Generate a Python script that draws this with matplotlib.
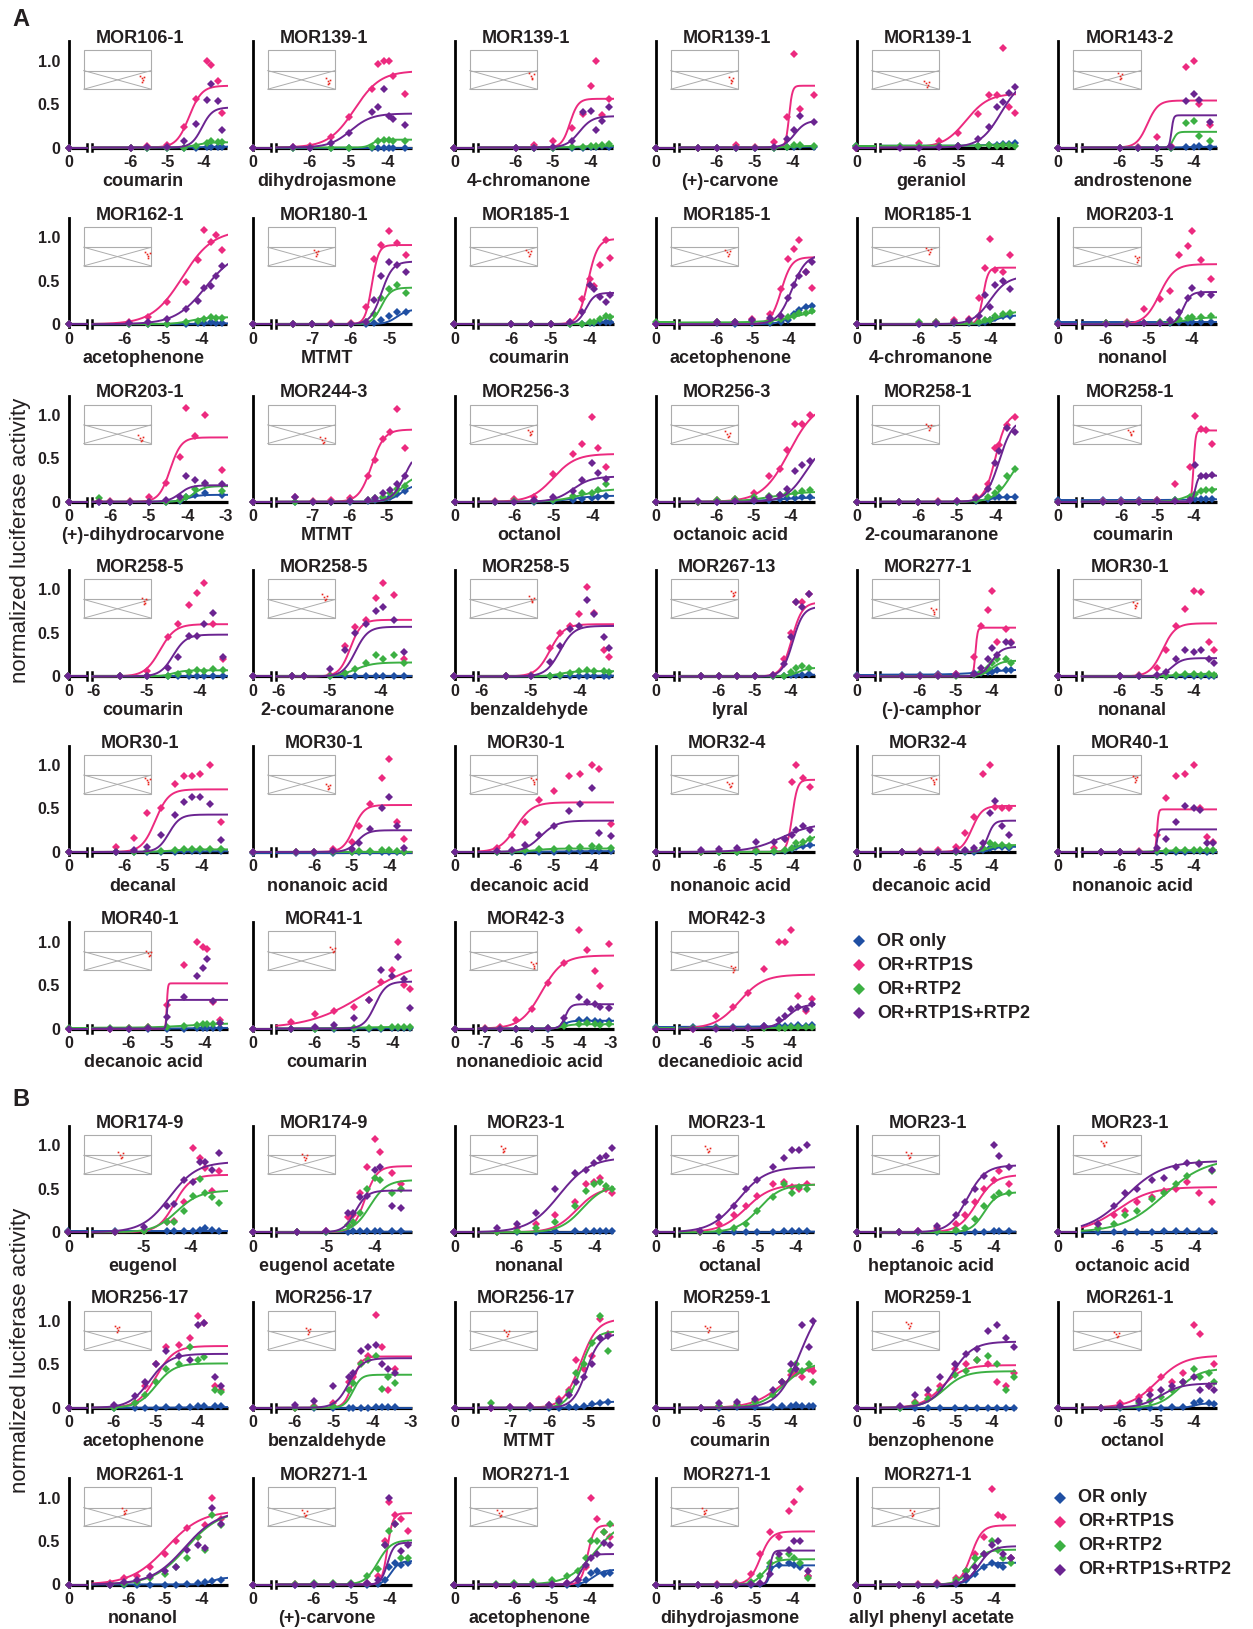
import numpy as np
import matplotlib
matplotlib.use("Agg")
import matplotlib.pyplot as plt
from matplotlib.lines import Line2D
from matplotlib.patches import Rectangle

plt.rcParams['font.family'] = ['Liberation Sans', 'DejaVu Sans']
plt.rcParams['font.weight'] = 'bold'

# ---------------- data ----------------
titles = ["MOR106-1", "MOR139-1", "MOR139-1", "MOR139-1", "MOR139-1", "MOR143-2",
          "MOR162-1", "MOR180-1", "MOR185-1", "MOR185-1", "MOR185-1", "MOR203-1",
          "MOR203-1", "MOR244-3", "MOR256-3", "MOR256-3", "MOR258-1", "MOR258-1",
          "MOR258-5", "MOR258-5", "MOR258-5", "MOR267-13", "MOR277-1", "MOR30-1",
          "MOR30-1", "MOR30-1", "MOR30-1", "MOR32-4", "MOR32-4", "MOR40-1",
          "MOR40-1", "MOR41-1", "MOR42-3", "MOR42-3",
          "MOR174-9", "MOR174-9", "MOR23-1", "MOR23-1", "MOR23-1", "MOR23-1",
          "MOR256-17", "MOR256-17", "MOR256-17", "MOR259-1", "MOR259-1", "MOR261-1",
          "MOR261-1", "MOR271-1", "MOR271-1", "MOR271-1", "MOR271-1"]

compounds = ["coumarin", "dihydrojasmone", "4-chromanone", "(+)-carvone", "geraniol", "androstenone",
             "acetophenone", "MTMT", "coumarin", "acetophenone", "4-chromanone", "nonanol",
             "(+)-dihydrocarvone", "MTMT", "octanol", "octanoic acid", "2-coumaranone", "coumarin",
             "coumarin", "2-coumaranone", "benzaldehyde", "lyral", "(-)-camphor", "nonanal",
             "decanal", "nonanoic acid", "decanoic acid", "nonanoic acid", "decanoic acid", "nonanoic acid",
             "decanoic acid", "coumarin", "nonanedioic acid", "decanedioic acid",
             "eugenol", "eugenol acetate", "nonanal", "octanal", "heptanoic acid", "octanoic acid",
             "acetophenone", "benzaldehyde", "MTMT", "coumarin", "benzophenone", "octanol",
             "nonanol", "(+)-carvone", "acetophenone", "dihydrojasmone", "allyl phenyl acetate"]

# log10 concentration range of the main axis segment
x_ranges = [(-7.05, -3.35), (-6.87, -3.38), (-6.99, -3.39), (-6.98, -3.43), (-7.0, -3.53), (-7.02, -3.37),
            (-6.84, -3.33), (-7.93, -4.42), (-6.84, -3.4), (-7.04, -3.27), (-7.07, -3.29), (-6.55, -3.42),
            (-6.47, -2.96), (-8.0, -4.31), (-6.93, -3.45), (-7.0, -3.37), (-6.99, -3.48), (-7.09, -3.35),
            (-6.03, -3.47), (-6.05, -3.4), (-6.07, -3.3), (-7.09, -3.35), (-7.11, -3.33), (-7.03, -3.38),
            (-6.82, -3.34), (-7.02, -3.4), (-6.99, -3.43), (-7.09, -3.39), (-7.11, -3.33), (-7.03, -3.38),
            (-6.95, -3.41), (-6.99, -3.51), (-7.2, -2.92), (-6.63, -3.4),
            (-6.08, -3.23), (-6.03, -3.24), (-6.99, -3.5), (-7.04, -3.5), (-6.99, -3.42), (-6.92, -3.43),
            (-6.51, -3.3), (-6.48, -2.98), (-7.82, -4.35), (-7.09, -3.35), (-7.04, -3.35), (-7.03, -3.38),
            (-6.98, -3.28), (-6.99, -3.41), (-6.96, -3.36), (-6.99, -3.42), (-7.0, -3.43)]

t654 = [-6, -5, -4]
x_ticks = [t654] * 7 + [[-7, -6, -5]] + [t654] * 4 + [[-6, -5, -4, -3], [-7, -6, -5]] + [t654] * 18 \
    + [[-7, -6, -5, -4, -3], t654] + [[-5, -4], [-5, -4]] + [t654] * 5 \
    + [[-6, -5, -4, -3], [-7, -6, -5]] + [t654] * 8

# fitted curves: (bottom, top, logEC50, hill slope)
fit_blue = [(0, 0.01, -4, 2), (0, 0, -4, 1), (0, 0.01, -4, 2), (0, 0.01, -4, 2), (0.02, 0.05, -4, 1.5), (0, 0.01, -4, 2),
            (0, 0.01, -4, 2), (0, 0.17, -4.8, 3), (0, 0.02, -4, 2), (0, 0.22, -3.9, 2.5), (0, 0.1, -3.85, 3), (0.02, 0.02, -4, 1),
            (0, 0.08, -4.0, 3), (0, 0.2, -4.6, 2.5), (0, 0.07, -4.5, 1.5), (0, 0.05, -4.5, 1), (0, 0.06, -4.2, 2), (0.02, 0.03, -4, 1),
            (0, 0, -4, 1), (0, 0, -4, 1), (0, 0.01, -4, 1), (0, 0.02, -4, 2), (0.02, 0.08, -4.2, 1), (0, 0.01, -4, 1),
            (0, 0.01, -4.5, 1), (-0.01, -0.01, -4, 1), (0, 0.01, -5, 1), (0, 0.08, -3.9, 3), (0, 0.06, -4.0, 4), (0, 0, -4, 1),
            (0, 0.01, -4, 1), (0, 0.01, -4, 1), (0, 0.09, -4.5, 4), (0.02, 0.03, -4.5, 1),
            (0.02, 0.02, -4, 1), (0, 0.01, -4, 1), (0, 0.01, -4, 1), (0, 0.01, -4, 1), (0, 0.01, -4, 1), (0, 0.01, -4, 1),
            (0, 0.01, -4, 1), (0, 0, -4, 1), (0, 0.07, -4.9, 3), (0, 0.01, -4, 1), (0, 0, -4, 1), (0, 0.05, -4.0, 4),
            (0, 0.08, -3.7, 3), (0, 0.27, -3.95, 4), (0, 0.17, -3.9, 3), (0, 0.22, -4.6, 10), (0, 0.25, -4.5, 3)]

fit_pink = [(0, 0.71, -4.4, 2.5), (0, 0.88, -4.85, 1.3), (0, 0.56, -4.55, 4), (0, 0.71, -4.1, 10), (0, 0.62, -4.8, 1.5), (0, 0.54, -5.25, 3),
            (0, 1.08, -4.5, 1.1), (0, 0.91, -5.45, 5), (0, 0.98, -4.05, 3.5), (0, 0.77, -4.2, 3), (0, 0.65, -4.2, 6), (0, 0.69, -4.75, 2.5),
            (0, 0.74, -4.45, 3), (0, 0.83, -5.4, 2.5), (0, 0.55, -5.0, 1.5), (0, 1.15, -4.05, 1.2), (0, 1.02, -4.0, 3), (0, 0.82, -4.0, 15),
            (0, 0.6, -4.75, 3), (0, 0.65, -4.6, 4), (0, 0.6, -4.6, 3), (0, 0.85, -3.98, 3), (0, 0.56, -4.45, 15), (0, 0.61, -4.85, 2.5),
            (0, 0.72, -5.2, 2.5), (0, 0.54, -4.95, 3), (0, 0.57, -6.0, 2), (0, 0.83, -4.0, 6), (0, 0.53, -4.55, 3), (0, 0.49, -5.0, 20),
            (0, 0.52, -5.0, 30), (0, 0.8, -4.7, 0.6), (0, 0.84, -5.2, 1.3), (0, 0.62, -5.2, 1.5),
            (0, 0.66, -4.35, 2.5), (0, 0.76, -4.2, 3.5), (0, 0.52, -4.45, 1.5), (0, 0.55, -5.3, 1.3), (0, 0.66, -4.45, 1.8), (0, 0.52, -6.0, 1.0),
            (0, 0.71, -5.0, 2), (0, 0.59, -4.5, 4), (0, 1.02, -5.2, 2), (0, 0.5, -4.3, 1.1), (0, 0.49, -5.35, 1.5), (0, 0.6, -5.0, 1.2),
            (0, 0.85, -4.95, 0.9), (0, 0.82, -4.05, 6), (0, 0.68, -4.05, 5), (0, 0.61, -4.85, 3), (0, 0.68, -4.6, 3)]

fit_green = [(0, 0.06, -4.2, 2.5), (0, 0.09, -4.4, 5), (0, 0.02, -4.3, 2), (0, 0.02, -4, 2), (0.02, 0.03, -4, 1), (0, 0.18, -4.55, 8),
             (0, 0.08, -4.3, 2), (0, 0.42, -5.2, 3.5), (0, 0.09, -3.8, 4), (0.02, 0.2, -3.6, 1.0), (0, 0.15, -3.8, 2), (0, 0.08, -4.2, 2),
             (0, 0.18, -3.85, 3), (0, 0.3, -4.6, 2.5), (0, 0.15, -4.3, 1.3), (0, 0.12, -4.5, 1.0), (0, 0.6, -3.6, 2), (0, 0.15, -4.1, 2),
             (0, 0.07, -4.5, 4), (0, 0.16, -4.5, 2.5), (0, 0.06, -4.4, 3), (0, 0.1, -3.8, 3), (0, 0.18, -4.0, 3), (0, 0.03, -4.5, 2),
             (0, 0.03, -4.8, 2), (0, 0, -4, 1), (0, 0.04, -5.5, 2), (0, 0.2, -3.7, 2.5), (0, 0.08, -4.1, 3), (0, 0.02, -5, 2),
             (0.01, 0.06, -4.5, 1), (0, 0.02, -5, 1), (0, 0.05, -4.5, 3), (0.01, 0.01, -4, 1),
             (0, 0.48, -4.3, 1.8), (0, 0.6, -4.1, 2.5), (0, 0.55, -4.3, 1.5), (0, 0.55, -4.95, 1.5), (0, 0.46, -4.25, 2.5), (0, 0.85, -4.8, 0.8),
             (0, 0.51, -5.0, 2), (0, 0.38, -4.5, 4), (0, 0.88, -5.2, 2.5), (0, 0.52, -4.2, 1.3), (0, 0.42, -5.3, 1.5), (0, 0.45, -4.4, 1.5),
             (0, 0.85, -4.4, 0.95), (0, 0.51, -4.3, 2.5), (0, 0.75, -3.85, 1.2), (0, 0.29, -4.75, 3), (0, 0.4, -4.6, 2.5)]

fit_purple = [(0, 0.46, -4.05, 3), (0, 0.39, -4.95, 1.6), (0, 0.36, -4.3, 2.5), (0, 0.31, -3.95, 3), (0, 0.8, -3.9, 1.6), (0, 0.37, -4.6, 15),
              (0, 0.85, -3.9, 1.1), (0, 0.72, -5.2, 3), (0, 0.36, -4.1, 4), (0, 0.8, -3.9, 2.2), (0, 0.55, -4.0, 1.8), (0, 0.37, -4.2, 5),
              (0, 0.19, -4.2, 3), (0, 0.6, -4.5, 2.5), (0, 0.29, -4.5, 1.8), (0, 0.7, -3.6, 1.6), (0, 0.95, -3.9, 2.5), (0, 0.3, -3.95, 10),
              (0, 0.48, -4.5, 3.5), (0, 0.57, -4.5, 3.5), (0, 0.58, -4.4, 3), (0, 0.8, -3.95, 3), (0, 0.34, -4.0, 3), (0, 0.21, -4.6, 3),
              (0, 0.43, -4.85, 3), (0, 0.25, -4.85, 3), (0, 0.36, -5.35, 2), (0, 0.33, -4.3, 1.0), (0, 0.36, -4.1, 5), (0, 0.26, -5.0, 20),
              (0, 0.33, -5.0, 30), (0, 0.54, -4.45, 3), (0, 0.28, -4.45, 5), (0, 0.28, -4.05, 2.5),
              (0, 0.81, -4.45, 1.5), (0, 0.48, -4.4, 3.5), (0, 0.86, -4.9, 1.1), (0, 0.75, -5.5, 1.2), (0, 0.77, -4.7, 1.8), (0, 0.82, -5.8, 0.9),
              (0, 0.62, -5.15, 1.8), (0, 0.57, -4.6, 2.5), (0, 0.85, -5.05, 2.5), (0, 1.25, -3.75, 1.4), (0, 0.76, -5.1, 1.5), (0, 0.28, -4.9, 1.5),
              (0, 0.85, -4.45, 0.95), (0, 0.48, -4.05, 5), (0, 0.35, -4.2, 4), (0, 0.39, -4.6, 10), (0, 0.44, -4.4, 2.5)]

# measured points (log10 conc) and responses per series
x_points = [
    [-6, -5.55, -5, -4.55, -4.2, -3.9, -3.8, -3.6, -3.5],
    [-6.43, -6, -5.45, -5, -4.4, -4.25, -4.1, -3.95, -3.85, -3.55],
    [-6, -5.5, -5, -4.5, -4.2, -4, -3.85, -3.7, -3.5],
    [-6.5, -6, -5.5, -5, -4.5, -4.15, -3.98, -3.8, -3.45],
    [-6.5, -6, -5.5, -5, -4.5, -4.2, -4, -3.85, -3.7, -3.55],
    [-6, -5.5, -5, -4.6, -4.2, -4, -3.85, -3.55],
    [-5.9, -5.4, -4.9, -4.4, -4.1, -3.95, -3.75, -3.62, -3.47],
    [-7.5, -7, -6.5, -6, -5.6, -5.4, -5.2, -5.0, -4.8, -4.55],
    [-6, -5.5, -5, -4.5, -4.2, -4, -3.9, -3.75, -3.6, -3.5],
    [-6, -5.5, -5, -4.5, -4.2, -4, -3.85, -3.7, -3.5, -3.35],
    [-6, -5.5, -5, -4.6, -4.3, -4.15, -4, -3.85, -3.65, -3.45],
    [-6, -5.5, -5.1, -4.75, -4.5, -4.3, -4.1, -4, -3.8, -3.55],
    [-6.3, -6, -5.5, -5, -4.55, -4.2, -4.05, -3.8, -3.55, -3.1],
    [-7.5, -7, -6.5, -6, -5.5, -5.3, -5.1, -4.9, -4.7, -4.5],
    [-6.5, -6, -5.5, -5, -4.5, -4.25, -4, -3.85, -3.65],
    [-6.5, -6, -5.5, -5, -4.6, -4.3, -4.1, -3.9, -3.7, -3.5],
    [-6.5, -6, -5.5, -5, -4.5, -4.2, -4, -3.9, -3.7, -3.5],
    [-6.5, -6, -5.5, -5, -4.5, -4.1, -3.95, -3.8, -3.65, -3.5],
    [-5.5, -5, -4.6, -4.4, -4.2, -4.05, -3.92, -3.75, -3.55],
    [-5.75, -5.5, -5, -4.7, -4.5, -4.3, -4.1, -3.95, -3.75, -3.55],
    [-5.5, -5, -4.6, -4.4, -4.2, -4, -3.85, -3.7, -3.5, -3.4],
    [-6.5, -6, -5.5, -5, -4.5, -4.2, -4, -3.85, -3.7, -3.5],
    [-6.5, -6, -5.5, -5, -4.5, -4.3, -4.1, -4, -3.85, -3.6, -3.45],
    [-6, -5.5, -5, -4.75, -4.5, -4.25, -4, -3.8, -3.6, -3.45],
    [-6.2, -5.75, -5.4, -5.05, -4.7, -4.45, -4.25, -4.05, -3.8, -3.5],
    [-6.5, -6, -5.5, -5, -4.8, -4.5, -4.2, -4, -3.8, -3.6],
    [-6.5, -6.1, -5.75, -5.4, -5, -4.6, -4.3, -4, -3.8, -3.5],
    [-6.5, -6, -5.5, -5, -4.5, -4.2, -4, -3.9, -3.7, -3.5],
    [-6.5, -6, -5.5, -5, -4.75, -4.5, -4.25, -4.05, -3.9, -3.7, -3.5],
    [-6.5, -6, -5.5, -5, -4.75, -4.5, -4.25, -4, -3.85, -3.65, -3.5],
    [-6.5, -6, -5.5, -5, -4.55, -4.2, -4.05, -3.95, -3.8, -3.6],
    [-6.6, -6, -5.5, -5, -4.6, -4.3, -4.0, -3.85, -3.7, -3.55],
    [-7, -6.5, -6, -5.5, -5, -4.5, -4.0, -3.75, -3.5, -3.35, -3.05],
    [-6.3, -5.75, -5.35, -5.0, -4.6, -4.25, -4.1, -3.95, -3.8, -3.6, -3.45],
    [-5.6, -5, -4.5, -4.35, -4.15, -3.95, -3.8, -3.7, -3.55, -3.4],
    [-5.6, -5, -4.55, -4.45, -4.3, -4.15, -4.0, -3.9, -3.65, -3.45],
    [-6.5, -6, -5.5, -5, -4.5, -4.2, -4, -3.85, -3.7, -3.55],
    [-6.5, -6, -5.6, -5.3, -5, -4.6, -4.3, -4.1, -3.9, -3.7],
    [-6.5, -6, -5.5, -5, -4.75, -4.5, -4.25, -4, -3.85, -3.6],
    [-6.5, -6.1, -5.8, -5.5, -5.1, -4.8, -4.5, -4.2, -3.9, -3.55],
    [-6, -5.5, -5.25, -5, -4.75, -4.45, -4.2, -4, -3.85, -3.6, -3.45],
    [-6, -5.5, -5, -4.6, -4.5, -4.3, -4.1, -3.9, -3.75, -3.6, -3.4],
    [-7.5, -7, -6.5, -6, -5.75, -5.5, -5.3, -5.1, -4.9, -4.7, -4.5],
    [-6.5, -6, -5.5, -5, -4.5, -4.25, -4.0, -3.85, -3.7, -3.5, -3.4],
    [-6.5, -6.1, -5.75, -5.4, -5.0, -4.7, -4.4, -4.1, -3.85, -3.6, -3.4],
    [-6.5, -6, -5.5, -5.2, -4.9, -4.6, -4.3, -4.0, -3.85, -3.6, -3.45],
    [-6.5, -6.1, -5.75, -5.4, -5.0, -4.7, -4.4, -4.1, -3.9, -3.7, -3.45],
    [-6.5, -6, -5.5, -5, -4.6, -4.3, -4.1, -4, -3.85, -3.7, -3.5],
    [-6.5, -6, -5.5, -5, -4.6, -4.3, -4.1, -3.95, -3.8, -3.6, -3.45],
    [-6.5, -6, -5.5, -5.1, -4.85, -4.6, -4.35, -4.1, -3.95, -3.8, -3.6],
    [-6.5, -6, -5.5, -5, -4.75, -4.5, -4.25, -4.05, -3.9, -3.75, -3.55],
]

y_blue = [
    [0, 0, 0, 0, 0, 0.01, 0.01, 0.01, 0.01],
    [0, 0, 0, 0, 0, 0, 0, 0, 0, 0],
    [0, 0, 0, 0, 0, 0.01, 0.01, 0.02, 0.01],
    [0, 0, 0, 0, 0, 0.01, 0.01, 0.02, 0.01],
    [0.01, 0.02, 0.02, 0.02, 0.02, 0.03, 0.03, 0.04, 0.04, 0.05],
    [0, 0, 0, 0, 0.01, 0.01, 0.02, 0.01],
    [0, 0, 0, 0, 0.01, 0.01, 0.02, 0.01, 0.01],
    [0, 0, 0, 0, 0, 0.01, 0.05, 0.1, 0.14, 0.14],
    [0, 0, 0, 0, 0, 0.01, 0.01, 0.02, 0.02, 0.02],
    [0.01, 0, 0.01, 0.01, 0.02, 0.05, 0.12, 0.16, 0.2, 0.21],
    [0, 0, 0.01, 0.01, 0.01, 0.03, 0.05, 0.07, 0.09, 0.1],
    [0.01, 0.01, 0.01, 0.01, 0.01, 0.02, 0.02, 0.02, 0.02, 0.02],
    [0, 0, 0, 0, 0, 0.01, 0.05, 0.08, 0.1, 0.08],
    [0, 0, 0, 0, 0.01, 0.02, 0.04, 0.06, 0.09, 0.12],
    [0, 0, 0, 0.01, 0.02, 0.03, 0.04, 0.06, 0.07],
    [0, 0, 0.01, 0.01, 0.02, 0.03, 0.04, 0.04, 0.05, 0.05],
    [0, 0, 0, 0, 0.01, 0.03, 0.05, 0.06, 0.06, 0.06],
    [0.02, 0.02, 0.02, 0.02, 0.02, 0.02, 0.03, 0.03, 0.03, 0.03],
    [0, 0, 0, 0, 0, 0.01, 0, 0.01, 0],
    [0, 0, 0, 0, 0, 0, 0.01, 0, 0, 0],
    [0, 0, 0, 0, 0, 0.01, 0.01, 0.01, 0.01, 0.01],
    [0, 0, 0, 0, 0, 0, 0.02, 0.02, 0.02, 0.03],
    [0.02, 0.02, 0.03, 0.03, 0.04, 0.04, 0.05, 0.05, 0.07, 0.07, 0.07],
    [0, 0, 0, 0, 0.01, 0.01, 0.01, 0.01, 0.01, 0.01],
    [0, 0, 0, 0, 0, 0.01, 0.01, 0.01, 0.02, 0.01],
    [-0.01, -0.01, -0.01, 0, 0, 0, 0, 0, 0, 0],
    [0, 0, 0, 0, 0, 0.01, 0.01, 0.01, 0.01, 0.01],
    [0, 0, 0, 0, 0, 0.01, 0.03, 0.06, 0.07, 0.08],
    [0, 0, 0, 0, 0, 0, 0.02, 0.05, 0.06, 0.06, 0.05],
    [0, 0, 0, 0, 0, 0, 0, 0.01, 0.01, 0, 0.01],
    [0, 0, 0, 0, 0, 0.01, 0.01, 0.01, 0.01, 0.01],
    [0, 0, 0, 0, 0, 0, 0.01, 0.01, 0.01, 0.01],
    [0, 0, 0, 0, 0, 0.05, 0.1, 0.1, 0.09, 0.08, 0.09],
    [0.02, 0.02, 0.02, 0.02, 0.03, 0.03, 0.03, 0.03, 0.04, 0.03, 0.04],
    [0.02, 0.02, 0.01, 0.02, 0.02, 0.02, 0.03, 0.05, 0.03, 0.02],
    [0, 0, 0, 0.01, 0.01, 0.01, 0.01, 0.01, 0.02, 0.01],
    [0, 0, 0, 0.01, 0.01, 0.01, 0.01, 0.01, 0.01, 0.01],
    [0, 0, 0, 0, 0, 0, 0.01, 0.01, 0.01, 0.01],
    [0, 0, 0, 0, 0, 0, 0, 0.01, 0.01, 0.01],
    [0, 0, 0, 0, 0, 0.01, 0.01, 0.01, 0.01, 0.01],
    [0, 0, 0, 0, 0.01, 0.01, 0.01, 0.02, 0.02, 0.02, 0.02],
    [0, 0, 0, 0, 0, 0, 0, 0.01, 0.01, 0.01, 0.01],
    [0, 0, 0, 0, 0, 0.01, 0.01, 0.02, 0.04, 0.06, 0.07],
    [0, 0, 0.01, 0.01, 0.01, 0.02, 0.02, 0.03, 0.02, 0.02, 0.02],
    [0, 0, 0, 0, 0, 0, 0, 0, 0, 0, 0],
    [0, 0, 0, 0, 0, 0.01, 0.01, 0.05, 0.08, 0.06, 0.04],
    [0, 0, 0, 0, 0, 0, 0.01, 0.02, 0.03, 0.04, 0.05],
    [0, 0, 0, 0, 0, 0.01, 0.05, 0.2, 0.25, 0.22, 0.25],
    [0, 0, 0, 0, 0, 0.01, 0.05, 0.13, 0.15, 0.12, 0.13],
    [0, 0, 0, 0, 0.01, 0.2, 0.22, 0.25, 0.22, 0.2, 0.1],
    [0, 0, 0, 0.01, 0.05, 0.12, 0.2, 0.25, 0.22, 0.2, 0.3],
]

y_pink = [
    [0, 0.02, 0.03, 0.24, 0.56, 1.0, 0.95, 0.77, 0.4],
    [0.01, 0.02, 0.12, 0.35, 0.67, 0.96, 0.99, 1.0, 0.82, 0.61],
    [0, 0.03, 0.08, 0.22, 0.39, 0.71, 1.0, 0.37, 0.56],
    [0, 0, 0.03, 0.01, 0.06, 0.35, 1.07, 0.44, 0.6],
    [0.01, 0.05, 0.07, 0.17, 0.38, 0.6, 0.6, 1.14, 0.47, 0.4],
    [0, 0.01, 0.12, 0.02, 0.93, 1.0, 0.5, 0.26],
    [0.02, 0.08, 0.25, 0.49, 0.74, 1.08, 0.95, 1.03, 0.85],
    [0, 0, 0.01, 0.01, 0.2, 0.75, 0.91, 1.07, 0.93, 0.8],
    [0, 0, 0, 0.03, 0.29, 0.52, 0.44, 0.68, 0.97, 0.76],
    [0.02, 0.03, 0.06, 0.12, 0.4, 0.75, 0.87, 0.97, 0.6, 0.42],
    [0.01, 0.03, 0.05, 0.06, 0.3, 0.65, 0.98, 0.62, 0.6, 0.79],
    [0.01, 0.02, 0.17, 0.29, 0.38, 0.79, 0.9, 1.07, 0.74, 0.52],
    [0.01, 0.01, 0.01, 0.06, 0.22, 0.52, 1.08, 0.76, 1.0, 0.37],
    [0.05, 0.01, 0.02, 0.04, 0.3, 0.48, 0.72, 0.8, 1.07, 0.62],
    [0.01, 0.03, 0.05, 0.32, 0.55, 0.67, 0.98, 0.62, 0.4],
    [0, 0.02, 0.03, 0.1, 0.3, 0.38, 0.6, 0.9, 0.9, 1.0],
    [0, 0, 0.01, 0.01, 0.05, 0.2, 0.62, 0.65, 0.88, 0.98],
    [0.01, 0.01, 0.01, 0.02, 0.2, 0.4, 0.99, 0.84, 0.83, 0.66],
    [0.01, 0.06, 0.45, 0.6, 0.82, 0.96, 1.07, 0.6, 0.2],
    [0, 0, 0.02, 0.35, 0.57, 0.65, 0.9, 1.07, 0.93, 0.2],
    [0.01, 0.02, 0.33, 0.5, 0.58, 0.72, 1.03, 0.73, 0.3, 0.22],
    [0, 0, 0.01, 0.01, 0.02, 0.2, 0.5, 0.85, 0.85, 0.95],
    [0, 0.01, 0.02, 0.03, 0.22, 0.58, 0.76, 0.98, 0.4, 0.55, 0.4],
    [0.01, 0.02, 0.1, 0.3, 0.58, 0.78, 0.98, 0.97, 0.4, 0.3],
    [0.06, 0.16, 0.45, 0.5, 0.78, 0.87, 0.87, 0.9, 1.0, 0.35],
    [0, 0, 0.04, 0.12, 0.3, 0.55, 0.85, 1.07, 0.35, 0.15],
    [0.05, 0.2, 0.35, 0.6, 0.7, 0.87, 0.9, 1.0, 0.95, 0.32],
    [0, 0.01, 0.01, 0.02, 0.05, 0.15, 0.8, 1.0, 0.85, 0.75],
    [0, 0.01, 0.02, 0.06, 0.22, 0.4, 0.9, 1.0, 0.52, 0.5, 0.5],
    [0, 0, 0.01, 0.2, 0.62, 0.87, 0.9, 1.0, 0.5, 0.17, 0.12],
    [0, 0.01, 0.02, 0.27, 0.73, 1.0, 0.94, 0.92, 0.3, 0.1],
    [0.08, 0.17, 0.2, 0.25, 0.33, 0.53, 0.67, 1.0, 0.5, 0.45],
    [0.01, 0.02, 0.1, 0.22, 0.52, 0.75, 1.13, 0.9, 0.66, 0.49, 0.97],
    [0, 0.15, 0.25, 0.41, 0.69, 0.99, 1.0, 1.13, 0.38, 0.2, 0.34],
    [0, 0.02, 0.12, 0.13, 0.35, 0.97, 0.85, 0.74, 0.48, 0.7],
    [0, 0.01, 0.18, 0.2, 0.45, 0.75, 1.07, 0.92, 0.68, 0.55],
    [0, 0.05, 0.1, 0.2, 0.35, 0.55, 0.58, 0.62, 0.5, 0.45],
    [0, 0.1, 0.2, 0.3, 0.42, 0.55, 0.58, 0.52, 0.5, 0.55],
    [0, 0.01, 0.05, 0.1, 0.2, 0.35, 0.5, 0.6, 0.7, 0.55],
    [0.1, 0.2, 0.25, 0.35, 0.4, 0.48, 0.5, 0.58, 0.45, 0.35],
    [0.02, 0.05, 0.25, 0.5, 0.7, 0.72, 0.8, 1.05, 0.97, 0.25, 0.2],
    [0, 0.02, 0.05, 0.3, 0.35, 0.52, 0.6, 1.07, 0.7, 0.2, 0.45],
    [0, 0.01, 0.02, 0.03, 0.1, 0.2, 0.55, 0.45, 0.6, 1.02, 0.85],
    [0, 0.02, 0.04, 0.08, 0.15, 0.3, 0.38, 0.4, 0.35, 0.45, 0.42],
    [0.01, 0.07, 0.15, 0.25, 0.45, 0.5, 0.55, 0.5, 0.3, 0.25, 0.4],
    [0, 0.05, 0.12, 0.2, 0.35, 0.3, 0.4, 0.95, 0.85, 0.25, 0.5],
    [0.02, 0.07, 0.1, 0.2, 0.35, 0.5, 0.65, 0.55, 0.68, 1.0, 0.75],
    [0.01, 0.01, 0.01, 0.01, 0.02, 0.1, 0.5, 0.95, 0.8, 0.75, 0.62],
    [0, 0, 0.01, 0.01, 0.02, 0.05, 0.2, 1.0, 0.75, 0.6, 0.55],
    [0, 0.01, 0.02, 0.12, 0.35, 0.6, 0.55, 0.85, 0.95, 1.1, 0.1],
    [0, 0.01, 0.02, 0.08, 0.15, 0.35, 0.55, 1.1, 0.8, 0.78, 0.3],
]

y_green = [
    [0, 0, 0, 0, 0.02, 0.05, 0.08, 0.06, 0.06],
    [0, 0, 0, 0, 0.01, 0.08, 0.09, 0.09, 0.08, 0.08],
    [0, 0, 0, 0.01, 0.01, 0.02, 0.02, 0.03, 0.04],
    [0, 0, 0, 0, 0, 0.01, 0.03, 0.03, 0.02],
    [0.02, 0.02, 0.02, 0.02, 0.02, 0.03, 0.02, 0.03, 0.03, 0.02],
    [0, 0, 0, 0, 0.28, 0.31, 0.13, 0.08],
    [0, 0, 0, 0.02, 0.04, 0.06, 0.08, 0.07, 0.07],
    [0, 0, 0, 0, 0.02, 0.12, 0.3, 0.4, 0.45, 0.36],
    [0, 0, 0, 0, 0, 0.02, 0.03, 0.06, 0.09, 0.08],
    [0.03, 0.03, 0.04, 0.04, 0.06, 0.08, 0.1, 0.13, 0.13, 0.15],
    [0.02, 0.02, 0.02, 0.02, 0.03, 0.05, 0.05, 0.1, 0.12, 0.13],
    [0.01, 0.01, 0.01, 0.02, 0.03, 0.06, 0.07, 0.08, 0.08, 0.09],
    [0.04, 0, 0, 0, 0, 0.02, 0.05, 0.15, 0.2, 0.12],
    [0, 0, 0, 0.01, 0.02, 0.04, 0.06, 0.1, 0.15, 0.18],
    [0, 0.01, 0.01, 0.02, 0.07, 0.1, 0.1, 0.13, 0.2],
    [0, 0.02, 0.03, 0.05, 0.07, 0.08, 0.09, 0.1, 0.12, 0.13],
    [0, 0, 0, 0, 0.02, 0.05, 0.1, 0.16, 0.3, 0.38],
    [0, 0, 0, 0.01, 0.02, 0.05, 0.09, 0.12, 0.14, 0.14],
    [0, 0, 0.01, 0.03, 0.05, 0.07, 0.06, 0.08, 0.07],
    [0, 0, 0.01, 0.04, 0.08, 0.15, 0.25, 0.2, 0.25, 0.15],
    [0, 0, 0.01, 0.02, 0.04, 0.06, 0.07, 0.06, 0.06, 0.05],
    [0, 0, 0, 0, 0, 0.01, 0.05, 0.1, 0.12, 0.1],
    [0, 0, 0, 0.01, 0.02, 0.05, 0.1, 0.15, 0.2, 0.2, 0.15],
    [0, 0, 0.01, 0.01, 0.02, 0.03, 0.03, 0.02, 0.03, 0.02],
    [0, 0, 0.01, 0.01, 0.02, 0.03, 0.03, 0.04, 0.03, 0.03],
    [0, 0, 0, 0, 0.01, 0.01, 0.02, 0.02, 0.01, 0],
    [0, 0.01, 0.02, 0.04, 0.04, 0.05, 0.06, 0.07, 0.06, 0.05],
    [0, 0, 0, 0.01, 0.01, 0.02, 0.05, 0.1, 0.12, 0.15],
    [0, 0, 0, 0, 0.01, 0.02, 0.05, 0.1, 0.08, 0.08, 0.07],
    [0, 0, 0, 0.01, 0.01, 0.02, 0.02, 0.02, 0.02, 0.02, 0.02],
    [0.01, 0.01, 0.02, 0.02, 0.03, 0.04, 0.05, 0.05, 0.05, 0.06],
    [0, 0, 0.01, 0.01, 0.01, 0.01, 0.02, 0.02, 0.02, 0.02],
    [0, 0, 0, 0, 0.01, 0.03, 0.05, 0.06, 0.05, 0.04, 0.05],
    [0.01, 0.01, 0.01, 0.01, 0.01, 0.01, 0.01, 0.02, 0.02, 0.02, 0.02],
    [0, 0.01, 0.12, 0.12, 0.25, 0.42, 0.61, 0.45, 0.4, 0.34],
    [0, 0, 0.08, 0.12, 0.22, 0.5, 0.62, 0.6, 0.45, 0.5],
    [0, 0.02, 0.05, 0.12, 0.3, 0.48, 0.55, 0.58, 0.53, 0.5],
    [0, 0.02, 0.05, 0.1, 0.25, 0.4, 0.55, 0.45, 0.52, 0.5],
    [0, 0, 0.01, 0.03, 0.05, 0.15, 0.3, 0.4, 0.45, 0.45],
    [0.05, 0.1, 0.2, 0.25, 0.38, 0.45, 0.55, 0.65, 0.8, 0.7],
    [0, 0.05, 0.15, 0.3, 0.45, 0.5, 0.7, 0.55, 0.58, 0.2, 0.18],
    [0, 0.01, 0.02, 0.2, 0.28, 0.5, 0.55, 0.6, 0.22, 0.35, 0.29],
    [0.05, 0, 0.01, 0.02, 0.05, 0.18, 0.4, 0.5, 0.75, 1.05, 0.65],
    [0, 0.02, 0.03, 0.07, 0.15, 0.3, 0.42, 0.5, 0.42, 0.5, 0.3],
    [0, 0.05, 0.1, 0.2, 0.38, 0.42, 0.55, 0.6, 0.5, 0.2, 0.35],
    [0, 0.01, 0.05, 0.08, 0.12, 0.2, 0.3, 0.45, 0.35, 0.4, 0.3],
    [0, 0.01, 0.03, 0.07, 0.12, 0.2, 0.3, 0.55, 0.4, 0.8, 0.68],
    [0.01, 0.02, 0.02, 0.02, 0.1, 0.18, 0.45, 0.62, 0.7, 0.3, 0.3],
    [0.01, 0.02, 0.03, 0.05, 0.1, 0.15, 0.3, 0.5, 0.5, 0.6, 0.7],
    [0, 0, 0.01, 0.03, 0.1, 0.25, 0.3, 0.35, 0.3, 0.25, 0.08],
    [0, 0, 0.01, 0.05, 0.15, 0.3, 0.35, 0.5, 0.4, 0.3, 0.25],
]

y_purple = [
    [0, 0.01, 0.01, 0.08, 0.27, 0.55, 0.73, 0.53, 0.2],
    [0.01, 0, 0.05, 0.17, 0.41, 0.47, 0.67, 0.36, 0.33, 0.26],
    [0, 0, 0.01, 0.08, 0.41, 0.42, 0.2, 0.3, 0.47],
    [0, 0, 0, 0, 0.01, 0.1, 0.2, 0.36, 0.29],
    [0, 0, 0.01, 0.02, 0.1, 0.23, 0.46, 0.52, 0.63, 0.69],
    [0, 0, 0, 0.01, 0.53, 0.61, 0.55, 0.29],
    [0.01, 0.02, 0.06, 0.17, 0.27, 0.42, 0.44, 0.55, 0.67],
    [0, 0, 0, 0, 0.03, 0.28, 0.55, 0.72, 0.68, 0.6],
    [0, 0, 0, 0.02, 0.14, 0.45, 0.4, 0.31, 0.26, 0.34],
    [0.02, 0.03, 0.05, 0.07, 0.1, 0.3, 0.45, 0.55, 0.6, 0.72],
    [0, 0.01, 0.02, 0.05, 0.1, 0.33, 0.2, 0.45, 0.5, 0.4],
    [0, 0, 0.01, 0.01, 0.05, 0.14, 0.3, 0.42, 0.35, 0.33],
    [0, 0, 0, 0, 0.02, 0.05, 0.3, 0.25, 0.22, 0.2],
    [0.05, 0, 0, 0.01, 0.02, 0.04, 0.1, 0.13, 0.2, 0.3],
    [0, 0, 0.02, 0.05, 0.12, 0.25, 0.45, 0.33, 0.26],
    [0.01, 0, 0.01, 0.02, 0.05, 0.08, 0.15, 0.35, 0.42, 0.47],
    [0, 0, 0, 0.01, 0.04, 0.15, 0.45, 0.58, 0.85, 0.8],
    [0, 0, 0, 0.01, 0.01, 0.02, 0.42, 0.3, 0.3, 0.31],
    [0, 0.01, 0.1, 0.22, 0.47, 0.47, 0.6, 0.73, 0.22],
    [0, 0.01, 0.08, 0.3, 0.5, 0.6, 0.75, 0.8, 0.65, 0.28],
    [0, 0.01, 0.16, 0.35, 0.55, 0.58, 0.88, 0.72, 0.45, 0.33],
    [0, 0, 0.01, 0.01, 0.02, 0.14, 0.45, 0.85, 0.8, 0.95],
    [0, 0.01, 0.01, 0.02, 0.03, 0.1, 0.2, 0.33, 0.25, 0.4, 0.38],
    [0, 0.01, 0.02, 0.05, 0.2, 0.3, 0.28, 0.3, 0.2, 0.15],
    [0, 0.02, 0.06, 0.2, 0.42, 0.58, 0.63, 0.63, 0.55, 0.14],
    [0, 0, 0.01, 0.03, 0.1, 0.27, 0.5, 0.63, 0.3, 0.05],
    [0.01, 0.02, 0.08, 0.2, 0.3, 0.47, 0.55, 0.73, 0.22, 0.18],
    [0.02, 0.03, 0.05, 0.12, 0.12, 0.15, 0.2, 0.25, 0.3, 0.25],
    [0, 0, 0, 0.01, 0.02, 0.05, 0.1, 0.45, 0.59, 0.3, 0.2],
    [0, 0, 0, 0.05, 0.15, 0.35, 0.53, 0.5, 0.48, 0.1, 0.1],
    [0, 0, 0.01, 0.13, 0.36, 0.6, 0.7, 0.8, 0.32, 0.07],
    [0, 0.02, 0.04, 0.12, 0.33, 0.67, 0.6, 0.82, 0.57, 0.24],
    [0, 0, 0, 0, 0.01, 0.12, 0.36, 0.3, 0.28, 0.25, 0.24],
    [0, 0, 0.01, 0.01, 0.03, 0.1, 0.15, 0.22, 0.25, 0.22, 0.28],
    [0, 0.06, 0.3, 0.33, 0.6, 0.58, 0.81, 0.81, 0.72, 0.91],
    [0, 0.01, 0.22, 0.22, 0.4, 0.42, 0.72, 0.75, 0.3, 0.28],
    [0.05, 0.1, 0.22, 0.5, 0.68, 0.72, 0.8, 0.85, 0.88, 0.97],
    [0.02, 0.18, 0.3, 0.5, 0.6, 0.75, 0.85, 0.95, 0.95, 1.0],
    [0, 0.02, 0.07, 0.2, 0.35, 0.5, 0.65, 1.0, 0.88, 0.75],
    [0.1, 0.3, 0.45, 0.5, 0.6, 0.62, 0.75, 0.8, 0.78, 0.72],
    [0.03, 0.13, 0.3, 0.5, 0.65, 0.6, 0.55, 0.95, 0.97, 0.35, 0.25],
    [0.03, 0.08, 0.25, 0.35, 0.4, 0.65, 0.7, 0.72, 0.5, 0.45, 0.4],
    [0, 0.01, 0.02, 0.03, 0.08, 0.15, 0.3, 0.35, 0.5, 0.8, 0.83],
    [0, 0.05, 0.07, 0.1, 0.2, 0.3, 0.5, 0.45, 0.95, 0.7, 1.0],
    [0.02, 0.15, 0.2, 0.35, 0.5, 0.62, 0.68, 0.88, 0.95, 0.8, 0.7],
    [0, 0.02, 0.08, 0.15, 0.2, 0.25, 0.3, 0.35, 0.2, 0.25, 0.2],
    [0, 0.03, 0.05, 0.1, 0.15, 0.2, 0.4, 0.45, 0.42, 0.88, 0.7],
    [0, 0.01, 0.01, 0.01, 0.02, 0.05, 0.45, 1.0, 0.7, 0.38, 0.45],
    [0, 0, 0.01, 0.01, 0.02, 0.05, 0.22, 0.3, 0.35, 0.48, 0.45],
    [0, 0, 0, 0.01, 0.02, 0.12, 0.35, 0.4, 0.5, 0.5, 0.15],
    [0, 0, 0.01, 0.02, 0.1, 0.2, 0.35, 0.45, 0.5, 0.35, 0.3],
]

# position of the red marks inside the grey inset box (fraction of box)
inset_fx = [0.87, 0.9, 0.92, 0.9, 0.82, 0.7, 0.95, 0.72, 0.88, 0.85, 0.85, 0.95,
            0.85, 0.82, 0.9, 0.85, 0.85, 0.85, 0.9, 0.85, 0.92, 0.93, 0.92, 0.92,
            0.95, 0.9, 0.95, 0.88, 0.92, 0.92, 0.97, 0.97, 0.95, 0.93,
            0.55, 0.55, 0.5, 0.55, 0.55, 0.45, 0.5, 0.6, 0.55, 0.55, 0.55, 0.65,
            0.6, 0.55, 0.45, 0.5, 0.6]
inset_fy = [0.28, 0.22, 0.35, 0.25, 0.15, 0.35, 0.3, 0.35, 0.35, 0.35, 0.4, 0.2,
            0.15, 0.1, 0.3, 0.25, 0.45, 0.3, 0.45, 0.55, 0.5, 0.65, 0.2, 0.35,
            0.35, 0.2, 0.35, 0.25, 0.35, 0.4, 0.45, 0.55, 0.15, 0.05,
            0.5, 0.45, 0.65, 0.65, 0.5, 0.8, 0.55, 0.5, 0.45, 0.55, 0.65, 0.4,
            0.4, 0.35, 0.35, 0.4, 0.35]

series_names = ["OR only", "OR+RTP1S", "OR+RTP2", "OR+RTP1S+RTP2"]
series_colors = ["#1f4fa3", "#ec2a7f", "#3cb043", "#6b2491"]

# ---------------- layout ----------------
W, H = 1253, 1629
fig = plt.figure(figsize=(W / 100, H / 100), dpi=100)

col_left = [68.5, 252.5, 454.5, 655.5, 856.5, 1058]
base_A = [147.5, 324.2, 501.8, 676.4, 852, 1028.6]
base_B = [1232.3, 1407.8, 1584.5]
ax_w = 159
ppu = 87.0
ymin, ymax = -0.03, 1.22
ax_h = (ymax - ymin) * ppu
txt = '#231f20'

dot_dx = [-0.04, -0.01, 0.01, 0.03, 0.0]
dot_dy = [0.06, 0.0, -0.05, 0.03, -0.09]


def hill(x, p):
    b, t, c, h = p
    return b + (t - b) / (1 + 10 ** (h * (c - x)))


for i in range(len(titles)):
    if i < 34:
        r, c = divmod(i, 6)
        base = base_A[r]
    else:
        r, c = divmod(i - 34, 6)
        base = base_B[r]
    left = col_left[c]
    bot = base - ymin * ppu
    ax = fig.add_axes([left / W, 1 - bot / H, ax_w / W, ax_h / H])

    lo, hi = x_ranges[i]
    span = hi - lo
    x0 = lo - 0.15 / 0.85 * span
    xbrk = lo - 0.035 / 0.85 * span
    ax.set_xlim(x0, hi)
    ax.set_ylim(ymin, ymax)

    for s in ['top', 'right', 'bottom']:
        ax.spines[s].set_visible(False)
    ax.spines['left'].set_linewidth(2.0)
    ax.spines['left'].set_color('black')

    # broken x axis
    ax.plot([x0, xbrk], [0, 0], color='black', lw=2.3, solid_capstyle='butt', zorder=1, clip_on=False)
    ax.plot([lo, hi], [0, 0], color='black', lw=2.3, solid_capstyle='butt', zorder=1, clip_on=False)
    for xb in (xbrk, lo):
        ax.plot([xb, xb], [-0.045, 0.045], color='black', lw=1.8, zorder=1, clip_on=False)

    ax.set_xticks([x0] + x_ticks[i])
    ax.set_xticklabels(['0'] + [str(t) for t in x_ticks[i]])
    ax.tick_params(axis='x', length=0, pad=3.5, labelsize=11.5, colors=txt)
    ax.set_yticks([0, 0.5, 1.0])
    if c == 0:
        ax.set_yticklabels(['0', '0.5', '1.0'])
    else:
        ax.set_yticklabels([])
    ax.tick_params(axis='y', length=0, pad=6, labelsize=11.5, colors=txt)

    fits = [fit_blue[i], fit_pink[i], fit_green[i], fit_purple[i]]
    ys = [y_blue[i], y_pink[i], y_green[i], y_purple[i]]
    xc = np.linspace(lo, hi, 300)
    for k in (0, 2, 1, 3):
        col = series_colors[k]
        z = 3 + k * 0.1
        ax.plot(xc, hill(xc, fits[k]), color=col, lw=1.4, zorder=z)
        ax.plot([x0, xbrk], [fits[k][0]] * 2, color=col, lw=1.4, zorder=z)
        ax.plot([x0], [fits[k][0]], 'D', color=col, ms=4, mew=0, zorder=z + 0.05, clip_on=False)
        ax.plot(x_points[i], ys[k], 'D', color=col, ms=4.4, mew=0, zorder=z + 0.05, clip_on=False)

    # inset placeholder box
    bx, by, bw, bh = 0.096, 0.56, 0.424, 0.357
    gcol = '#acacac'
    ax.add_patch(Rectangle((bx, by), bw, bh, transform=ax.transAxes, fill=False,
                           ec=gcol, lw=0.8, zorder=5))
    ym = by + bh * 0.48
    ax.plot([bx, bx + bw], [ym, ym], color=gcol, lw=0.8, transform=ax.transAxes, zorder=5)
    ax.plot([bx, bx + bw], [ym, by], color=gcol, lw=0.7, transform=ax.transAxes, zorder=5)
    ax.plot([bx, bx + bw], [by, ym], color=gcol, lw=0.7, transform=ax.transAxes, zorder=5)
    dx = [bx + bw * (inset_fx[i] + d) for d in dot_dx]
    dy = [by + bh * (inset_fy[i] + d) for d in dot_dy]
    ax.plot(dx, dy, 's', color='#e8241c', ms=1.2, mew=0, transform=ax.transAxes, zorder=6)

    ax.text(0.45, 1.026, titles[i], transform=ax.transAxes, ha='center', va='center',
            fontsize=13, fontweight='bold', color=txt)
    ax.text(0.47, -0.29, compounds[i], transform=ax.transAxes, ha='center', va='center',
            fontsize=13, fontweight='bold', color=txt)

# y labels and panel letters
fig.text(21 / W, 1 - 540 / H, 'normalized luciferase activity', rotation=90, ha='center',
         va='center', fontsize=16, fontweight='normal', color=txt)
fig.text(21 / W, 1 - 1350 / H, 'normalized luciferase activity', rotation=90, ha='center',
         va='center', fontsize=16, fontweight='normal', color=txt)
fig.text(21 / W, 1 - 19 / H, 'A', ha='center', va='center', fontsize=17, fontweight='bold', color=txt)
fig.text(21 / W, 1 - 1099 / H, 'B', ha='center', va='center', fontsize=17, fontweight='bold', color=txt)


def legend(xm, xt, ys):
    for k in range(4):
        fig.add_artist(Line2D([xm / W], [1 - ys[k] / H], marker='D', color=series_colors[k],
                              ms=6.5, mew=0, ls='none', transform=fig.transFigure))
        fig.text(xt / W, 1 - ys[k] / H, series_names[k], ha='left', va='center',
                 fontsize=13, fontweight='bold', color=txt)


legend(859, 877, [941, 965, 989, 1013])
legend(1060, 1078, [1498, 1522, 1546, 1570])

fig.savefig('out.png', dpi=100)
